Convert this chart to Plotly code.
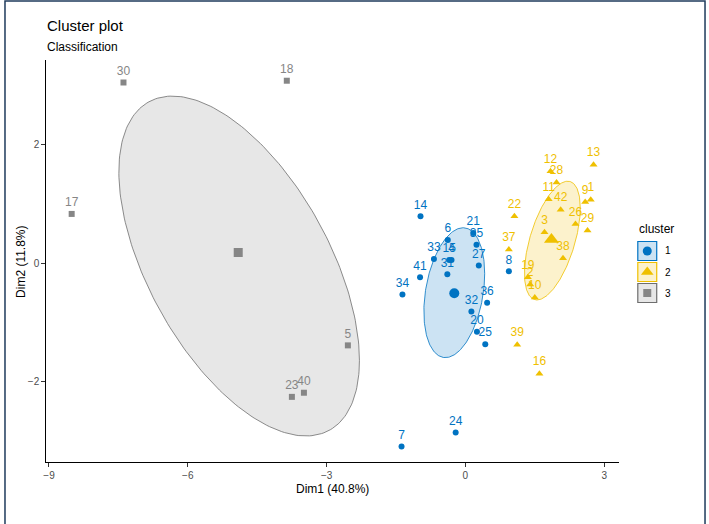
import numpy as np
import plotly.graph_objects as go

W, H = 709, 524

# ---------------- data ----------------
cluster_names = ["1", "2", "3"]
cluster_colors = ["#0073C2", "#EFC000", "#868686"]
cluster_fills = ["rgba(0,115,194,0.2)", "rgba(239,192,0,0.2)", "rgba(134,134,134,0.2)"]
cluster_lines = ["#0073C2", "#EFC000", "#6E6E6E"]
cluster_symbols = ["circle", "triangle-up", "square"]

c1_labels = ["14", "6", "21", "35", "33", "15", "4", "31", "27", "41", "34",
             "36", "32", "20", "25", "8", "7", "24"]
c1_x = [-0.97, -0.38, 0.17, 0.24, -0.68, -0.35, -0.30, -0.39, 0.29, -0.98, -1.36,
        0.47, 0.13, 0.25, 0.43, 0.94, -1.38, -0.21]
c1_y = [0.79, 0.39, 0.51, 0.31, 0.07, 0.05, 0.05, -0.19, -0.04, -0.24, -0.53,
        -0.67, -0.82, -1.16, -1.37, -0.14, -3.10, -2.86]

c2_labels = ["13", "12", "28", "11", "42", "9", "1", "26", "29", "3", "38",
             "22", "37", "19", "2", "10", "39", "16"]
c2_x = [2.77, 1.84, 1.97, 1.80, 2.06, 2.59, 2.71, 2.38, 2.64, 1.71, 2.11,
        1.06, 0.94, 1.35, 1.40, 1.50, 1.12, 1.60]
c2_y = [1.66, 1.55, 1.36, 1.08, 0.90, 1.03, 1.07, 0.66, 0.55, 0.52, 0.08,
        0.79, 0.23, -0.24, -0.36, -0.58, -1.38, -1.87]

c3_labels = ["30", "18", "17", "5", "23", "40"]
c3_x = [-7.39, -3.86, -8.51, -2.54, -3.75, -3.49]
c3_y = [3.05, 3.08, 0.83, -1.39, -2.26, -2.19]

centroid_x = [-0.24, 1.86, -4.91]
centroid_y = [-0.51, 0.40, 0.18]

# ellipse: centre and shape matrix (data units)
ell_cx = [-0.24, 1.88, -4.89]
ell_cy = [-0.50, 0.38, -0.05]
ell_sxx = [0.432, 0.364, 6.76]
ell_syy = [1.203, 1.006, 8.24]
ell_sxy = [0.21, 0.333, -4.14]

x_ticks = [-9, -6, -3, 0, 3]
y_ticks = [-2, 0, 2]
x_range = [-9.06, 3.32]
y_range = [-3.36, 3.43]

title_text = "Cluster plot"
subtitle_text = "Classification"
x_title = "Dim1 (40.8%)"
y_title = "Dim2 (11.8%)"
legend_title = "cluster"

# ---------------- figure ----------------
FONT = "Liberation Sans, Arial, sans-serif"
fig = go.Figure()

# ellipses
t = np.linspace(0, 2 * np.pi, 240)
for i in range(3):
    S = np.array([[ell_sxx[i], ell_sxy[i]], [ell_sxy[i], ell_syy[i]]])
    L = np.linalg.cholesky(S)
    pts = L @ np.vstack([np.cos(t), np.sin(t)])
    fig.add_trace(go.Scatter(
        x=ell_cx[i] + pts[0], y=ell_cy[i] + pts[1], mode="lines",
        fill="toself", fillcolor=cluster_fills[i],
        line=dict(color=cluster_lines[i], width=0.8),
        hoverinfo="skip", showlegend=False))

groups = [(c1_labels, c1_x, c1_y), (c2_labels, c2_x, c2_y), (c3_labels, c3_x, c3_y)]
small_sizes = [6, 7, 6]
big_sizes = [10, 13, 9]
for i, (lab, xs, ys) in enumerate(groups):
    fig.add_trace(go.Scatter(
        x=xs, y=ys, mode="markers+text", text=lab, textposition="top center",
        textfont=dict(family=FONT, size=12, color=cluster_colors[i]),
        marker=dict(symbol=cluster_symbols[i], size=small_sizes[i],
                    color=cluster_colors[i], line=dict(width=0)),
        showlegend=False, cliponaxis=False))
    fig.add_trace(go.Scatter(
        x=[centroid_x[i]], y=[centroid_y[i]], mode="markers",
        marker=dict(symbol=cluster_symbols[i], size=big_sizes[i],
                    color=cluster_colors[i], line=dict(width=0)),
        showlegend=False))

# ---- legend (manual, on a full-figure pixel axis pair) ----
leg_y = [251, 272, 293]
for i in range(3):
    fig.add_trace(go.Scatter(
        x=[647], y=[leg_y[i]], mode="markers", xaxis="x2", yaxis="y2",
        marker=dict(symbol=cluster_symbols[i], size=[9, 11, 8][i],
                    color=cluster_colors[i], line=dict(width=0)),
        showlegend=False, hoverinfo="skip"))

shapes = []
for i in range(3):
    shapes.append(dict(type="rect", xref="x2", yref="y2",
                       x0=637.5, x1=656.5, y0=leg_y[i] - 9.5, y1=leg_y[i] + 9.5,
                       fillcolor=cluster_fills[i],
                       line=dict(color=cluster_lines[i], width=1.2), layer="below"))
# outer frame
shapes.append(dict(type="rect", xref="x2", yref="y2", x0=2, x1=705, y0=1, y1=540,
                   line=dict(color="#1F3B5C", width=1.5), fillcolor="rgba(0,0,0,0)"))

annotations = [
    dict(x=42 / W, y=1 - 25 / H, xref="paper", yref="paper", text=title_text,
         showarrow=False, xanchor="left", yanchor="middle",
         font=dict(family=FONT, size=15, color="black")),
    dict(x=42 / W, y=1 - 47 / H, xref="paper", yref="paper", text=subtitle_text,
         showarrow=False, xanchor="left", yanchor="middle",
         font=dict(family=FONT, size=12, color="black")),
    dict(x=331 / W, y=1 - 489 / H, xref="paper", yref="paper", text=x_title,
         showarrow=False, xanchor="center", yanchor="middle",
         font=dict(family=FONT, size=12, color="black")),
    dict(x=18 / W, y=1 - 262 / H, xref="paper", yref="paper", text=y_title,
         showarrow=False, xanchor="center", yanchor="middle", textangle=-90,
         font=dict(family=FONT, size=12, color="black")),
    dict(x=637 / W, y=1 - 229 / H, xref="paper", yref="paper", text=legend_title,
         showarrow=False, xanchor="left", yanchor="middle",
         font=dict(family=FONT, size=12, color="black")),
]
for i in range(3):
    annotations.append(dict(x=663 / W, y=1 - leg_y[i] / H, xref="paper", yref="paper",
                            text=cluster_names[i], showarrow=False, xanchor="left",
                            yanchor="middle",
                            font=dict(family=FONT, size=10, color="black")))

fig.update_layout(
    width=W, height=H, margin=dict(l=0, r=0, t=0, b=0),
    paper_bgcolor="white", plot_bgcolor="rgba(0,0,0,0)",
    showlegend=False,
    xaxis=dict(domain=[43.4 / W, 618.6 / W], range=x_range, tickvals=x_ticks,
               showgrid=False, zeroline=False, showline=True, linecolor="black",
               linewidth=1, ticks="outside", ticklen=4, tickcolor="#333",
               tickfont=dict(family=FONT, size=10, color="#4D4D4D"),
               anchor="y"),
    yaxis=dict(domain=[(H - 462) / H, (H - 60) / H], range=y_range, tickvals=y_ticks,
               showgrid=False, zeroline=False, showline=True, linecolor="black",
               linewidth=1, ticks="outside", ticklen=4, tickcolor="#333",
               tickfont=dict(family=FONT, size=10, color="#4D4D4D"),
               anchor="x"),
    xaxis2=dict(domain=[0, 1], range=[0, W], visible=False,
                anchor="y2", fixedrange=True),
    yaxis2=dict(domain=[0, 1], range=[H, 0], visible=False,
                anchor="x2", fixedrange=True),
    shapes=shapes, annotations=annotations,
)

fig.write_html("out.html",
               config={"displayModeBar": False},
               post_script="document.body.style.margin='0px';"
                           "document.body.style.overflow='hidden';")
